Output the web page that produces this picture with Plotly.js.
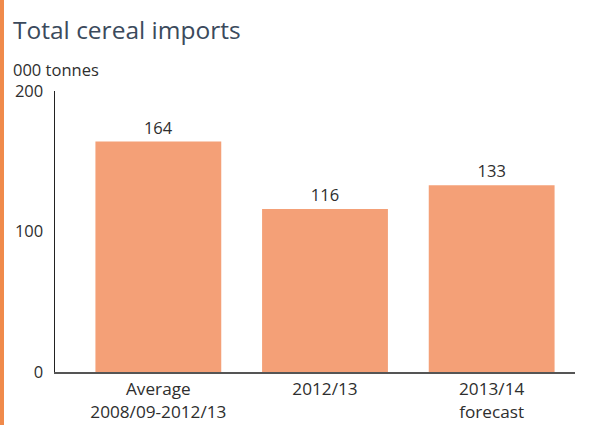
<!DOCTYPE html>
<html>
<head>
<meta charset="utf-8">
<script src="https://cdn.plot.ly/plotly-3.0.1.min.js"></script>
<style>
html,body{margin:0;padding:0;background:#fff;}
#chart{width:595px;height:425px;}
</style>
</head>
<body>
<div id="chart"></div>
<script>
var categories = ["Average<br>2008/09-2012/13", "2012/13", "2013/14<br>forecast"];
var values = [164, 116, 133];
var valueLabels = ["164", "116", "133"];
var yTicks = [0, 100, 200];

var font = "Open Sans, Noto Sans, sans-serif";
var trace = {
  type: "bar",
  x: [0, 1, 2],
  y: values,
  text: valueLabels,
  textposition: "outside",
  cliponaxis: false,
  textfont: {family: font, size: 16.5, color: "#2e2e2e"},
  marker: {color: "#F4A077"},
  width: 0.755,
  hoverinfo: "none"
};

var layout = {
  width: 595, height: 425,
  margin: {l: 55, r: 20, t: 91, b: 53},
  paper_bgcolor: "#fff",
  plot_bgcolor: "#fff",
  showlegend: false,
  font: {family: font, color: "#2e2e2e"},
  xaxis: {
    range: [-0.62, 2.5],
    tickvals: [0, 1, 2],
    ticktext: categories,
    showgrid: false, zeroline: false,
    showline: true, linecolor: "#555", linewidth: 2,
    ticks: "outside", ticklen: 0.5, tickcolor: "rgba(0,0,0,0)",
    tickfont: {family: font, size: 17.2, color: "#2e2e2e"},
    fixedrange: true
  },
  yaxis: {
    range: [0, 200],
    tickvals: yTicks,
    ticktext: yTicks.map(String),
    showgrid: false, zeroline: false,
    showline: true, linecolor: "#222", linewidth: 1.5,
    ticks: "outside", ticklen: 7, tickcolor: "rgba(0,0,0,0)",
    tickfont: {family: font, size: 16.5, color: "#2e2e2e"},
    fixedrange: true
  },
  shapes: [
    {type: "rect", xref: "paper", yref: "paper", x0: -55/520, x1: -51/520, y0: -1, y1: 2,
     fillcolor: "#F08A4B", line: {width: 0}, layer: "above"}
  ],
  annotations: [
    {text: "Total cereal imports", xref: "paper", yref: "paper", x: -44/520, y: 1 + (91-30)/281,
     xanchor: "left", yanchor: "middle", showarrow: false,
     font: {family: font, size: 24.5, color: "#3B4A5C"}},
    {text: "000 tonnes", xref: "paper", yref: "paper", x: -44/520, y: 1 + (91-69)/281,
     xanchor: "left", yanchor: "middle", showarrow: false,
     font: {family: font, size: 16.5, color: "#2e2e2e"}}
  ]
};

Plotly.newPlot("chart", [trace], layout, {displayModeBar: false, staticPlot: true});
</script>
</body>
</html>
